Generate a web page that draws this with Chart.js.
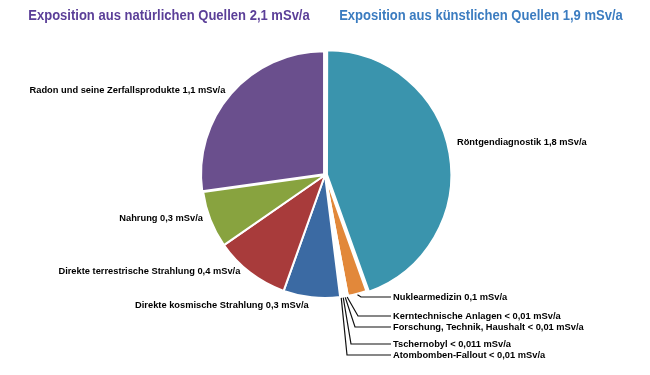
<!DOCTYPE html>
<html>
<head>
<meta charset="utf-8">
<script src="https://cdn.jsdelivr.net/npm/chart.js@4.4.0/dist/chart.umd.min.js"></script>
<style>
  html, body { margin: 0; padding: 0; background: #fff; }
  #wrap { width: 650px; height: 375px; position: relative; }
</style>
</head>
<body>
<div id="wrap"><canvas id="doseChart"></canvas></div>
<script>
"use strict";

// clockwise from 12 o'clock
const sources = [
    'Röntgendiagnostik',
    'Nuklearmedizin',
    'Kerntechnische Anlagen',
    'Forschung, Technik, Haushalt',
    'Tschernobyl',
    'Atombomben-Fallout',
    'Direkte kosmische Strahlung',
    'Direkte terrestrische Strahlung',
    'Nahrung',
    'Radon und seine Zerfallsprodukte'
];
const doses = [1.8, 0.1, 0.01, 0.01, 0.011, 0.01, 0.3, 0.4, 0.3, 1.1];
const doseLabels = ['1,8 mSv/a', '0,1 mSv/a', '< 0,01 mSv/a', '< 0,01 mSv/a', '< 0,011 mSv/a',
    '< 0,01 mSv/a', '0,3 mSv/a', '0,4 mSv/a', '0,3 mSv/a', '1,1 mSv/a'];
const titles = ['Exposition aus natürlichen Quellen 2,1 mSv/a', 'Exposition aus künstlichen Quellen 1,9 mSv/a'];

const sliceColors = ['#3a94ad', '#e2883a', '#c4c4d2', '#cfc8de', '#d8d4bc', '#aab2ca',
    '#3b6aa3', '#a83b3b', '#88a33f', '#6a4f8d'];
const sliceOffsets = [8, 0, 0, 0, 0, 0, 0, 0, 0, 5];

// label placement: nudges for outside labels, leader lines for the tiny slices
const labelNudge = [[-5, -9], null, null, null, null, null, [-2, 0], [-5, -8], [0, -4], [3, 5]];
const leaders = [null, { y: 297, elbowX: 361 }, { y: 316, elbowX: 358 }, { y: 327, elbowX: 355 },
    { y: 344, elbowX: 351 }, { y: 355, elbowX: 347 }, null, null, null, null];
const leaderTextX = 393;

const labelFont = 'bold 9.3px "Liberation Sans", Arial, sans-serif';

const pieLabels = {
    id: 'pieLabels',
    afterDraw(chart) {
        const ctx = chart.ctx;
        const arcs = chart.getDatasetMeta(0).data;
        ctx.save();
        ctx.font = labelFont;
        ctx.fillStyle = '#000';
        ctx.strokeStyle = '#111';
        ctx.lineWidth = 1.2;
        ctx.textBaseline = 'middle';
        arcs.forEach((arc, i) => {
            const { x, y, startAngle, endAngle, outerRadius } = arc.getProps(['x', 'y', 'startAngle', 'endAngle', 'outerRadius'], true);
            const mid = (startAngle + endAngle) / 2;
            const off = sliceOffsets[i];
            const cx = x + Math.cos(mid) * off;
            const cy = y + Math.sin(mid) * off;
            const text = sources[i] + ' ' + doseLabels[i];
            if (leaders[i]) {
                const sx = cx + Math.cos(mid) * (outerRadius + 1);
                const sy = cy + Math.sin(mid) * (outerRadius + 1);
                const l = leaders[i];
                ctx.beginPath();
                ctx.moveTo(sx, sy);
                ctx.lineTo(l.elbowX, l.y);
                ctx.lineTo(leaderTextX - 2, l.y);
                ctx.stroke();
                ctx.textAlign = 'left';
                ctx.fillText(text, leaderTextX, l.y);
            } else {
                const r = outerRadius + 8;
                const n = labelNudge[i];
                const lx = cx + Math.cos(mid) * r + n[0];
                const ly = cy + Math.sin(mid) * r + n[1];
                ctx.textAlign = Math.cos(mid) >= 0 ? 'left' : 'right';
                ctx.fillText(text, lx, ly);
            }
        });

        // the two headings, drawn slightly condensed
        ctx.font = 'bold 14px "Liberation Sans", Arial, sans-serif';
        ctx.textAlign = 'center';
        ctx.scale(0.93, 1);
        ctx.fillStyle = '#5b3f98';
        ctx.fillText(titles[0], 169 / 0.93, 16);
        ctx.fillStyle = '#3b7cc0';
        ctx.fillText(titles[1], 481 / 0.93, 16);
        ctx.restore();
    }
};

const ctx = document.getElementById('doseChart');

// eslint-disable-next-line no-undef
new Chart(ctx, {
    type: 'pie',
    data: {
        labels: sources,
        datasets: [{
            data: doses,
            backgroundColor: sliceColors,
            borderColor: '#ffffff',
            borderWidth: 2,
            offset: sliceOffsets
        }]
    },
    options: {
        responsive: true,
        maintainAspectRatio: false,
        animation: false,
        layout: {
            padding: { top: 47, bottom: 72, left: 0, right: 0 }
        },
        plugins: {
            legend: { display: false },
            tooltip: { enabled: false },
            title: { display: false }
        }
    },
    plugins: [pieLabels]
});
</script>
</body>
</html>
